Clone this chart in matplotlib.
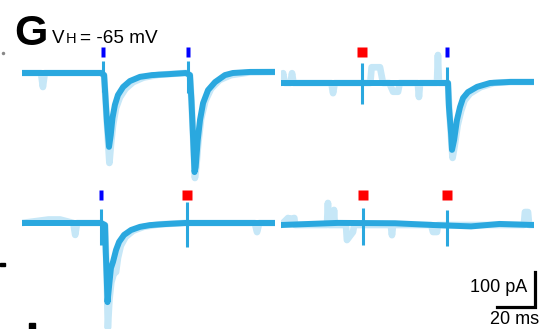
import matplotlib
matplotlib.use('Agg')
import matplotlib.pyplot as plt
from matplotlib.transforms import blended_transform_factory
from matplotlib.patches import Rectangle
from matplotlib.lines import Line2D

# ---- traces: time in ms, current in pA (0 = holding baseline) ----
# top left: blue / blue
tl_t = [0, 41.6, 43.2, 43.7, 44.7, 45.8, 46.7, 47.6, 48.9, 50.5, 53.2, 56.8, 62.1, 68.4, 77.9, 86.3,
        88.4, 89.2, 90.0, 90.8, 91.4, 92.5, 93.7, 95.3, 97.9, 101.6, 106.8, 111, 120, 133]
tl_i = [0, 0, -6, -49, -140, -211, -177, -129, -91, -63, -40, -23, -11, -6, -3, 0,
        -6, -80, -180, -283, -269, -191, -134, -86, -49, -26, -6, 0, 3, 3]
tl_lt = [0, 10.0, 11.0, 12.0, 41.6, 43.2, 43.9, 45.0, 46.0, 46.9, 47.9, 49.5, 51.5, 54.5, 58.5, 64.0, 72.0,
         86.3, 88.4, 89.3, 90.2, 91.0, 91.7, 92.8, 94.3, 96.5, 99.5, 104, 110, 120, 133]
tl_li = [0, 0, -40, 0, 0, -6, -70, -170, -257, -200, -150, -100, -70, -45, -26, -13, -5,
         0, -6, -90, -200, -300, -270, -200, -130, -80, -45, -20, -6, 2, 3]
tl_stim = [42.4, 87.4]
tl_art_hi = [34, 34]
tl_art_lo = [-54, -57]
tl_marks = ['blue', 'blue']

# top right: red / blue
tr_t = [0, 87.0, 87.9, 88.4, 89.5, 90.0, 91.1, 92.6, 94.2, 95.8, 98.4, 103.2, 110, 120.5, 133]
tr_i = [0, 0, 0, -69, -143, -191, -163, -106, -69, -43, -26, -11, 0, 3, 3]
tr_lt = [0, 1.1, 2.0, 5.0, 5.8, 6.6, 26.5, 27.4, 28.3, 47.0, 47.7, 52.1, 53.7, 57.0, 59.0, 61.6, 62.5,
         72.0, 72.6, 73.2, 82.1, 82.6, 83.1, 87.0, 87.9, 88.6, 89.7, 90.3, 91.4, 93.0, 94.8, 96.6, 99.5,
         105, 112, 121, 133]
tr_li = [0, 28, 0, 0, 28, 0, 0, -29, 0, 0, 45, 45, 0, 0, -25, -25, 0,
         0, -40, 0, 0, 80, 0, 0, 0, -80, -170, -214, -180, -120, -80, -50, -30,
         -12, 0, 3, 3]
tr_stim = [42.6, 87.4]
tr_art_hi = [57, 46]
tr_art_lo = [-60, -63]
tr_marks = ['red', 'blue']

# bottom left: blue / red
bl_t = [0, 41.6, 43.7, 44.1, 44.6, 45.0, 45.9, 46.8, 47.9, 49.5, 51.1, 53.7, 57.4, 62.1, 67.4, 75.3, 85.8, 133]
bl_i = [0, 0, -6, -83, -157, -226, -177, -129, -111, -77, -54, -34, -20, -11, -6, -3, 0, 0]
bl_lt = [0, 14, 20, 27.0, 28.0, 29.0, 41.6, 43.7, 44.3, 44.8, 45.2, 46.0, 47.0, 48.3, 49.5, 50.5, 52.0,
         54.5, 58.5, 64, 72, 85.8, 122.5, 123.7, 124.9, 133]
bl_li = [0, 10, 10, 0, -34, 0, 0, -6, -100, -200, -300, -220, -170, -145, -140, -100, -65,
         -40, -22, -11, -4, 0, 0, -26, 0, 0]
bl_stim = [41.8, 87.1]
bl_art_hi = [40, 60]
bl_art_lo = [-63, -69]
bl_marks = ['blue', 'red']

# bottom right: red / red
br_t = [0, 30, 60, 80, 100, 115, 133]
br_i = [0, 6, 5, 0, -4, 3, 0]
br_lt = [0, 3.7, 4.5, 7.0, 7.4, 24.2, 24.7, 25.2, 27.5, 27.9, 28.3, 34.2, 34.7, 36.5, 37.9, 38.5,
         57.8, 58.4, 59.0, 79.0, 80.0, 82.1, 82.6, 127.8, 128.4, 130.0, 130.6, 133]
br_li = [0, 20, 17, 20, 0, 0, 63, 0, 0, 43, 0, 0, -43, -30, -20, 0,
         0, -29, 0, 0, -20, -20, 0, 0, 37, 37, 0, 0]
br_stim = [42.9, 87.4]
br_art_hi = [49, 43]
br_art_lo = [-57, -60]
br_marks = ['red', 'red']

DARK = '#2aa8df'
LIGHT = '#c6e7f7'
MARK_COL = {'blue': '#0000ff', 'red': '#ff0000'}

W, H = 543, 329
PX_MS = 1.9     # pixels per ms
PX_PA = 0.35    # pixels per pA
T_MAX = 133
Y_LO, Y_HI = -330, 110

fig = plt.figure(figsize=(W / 100, H / 100), dpi=100)


def make_panel(x0, yb):
    # x0: pixel column of t = 0, yb: pixel row of the baseline
    top = yb - Y_HI * PX_PA
    h = (Y_HI - Y_LO) * PX_PA
    w = T_MAX * PX_MS
    ax = fig.add_axes([x0 / W, 1 - (top + h) / H, w / W, h / H])
    ax.set_xlim(0, T_MAX)
    ax.set_ylim(Y_LO, Y_HI)
    ax.axis('off')
    ax.patch.set_alpha(0)
    return ax


blue_rect = [(-2, -4.5), (2, -4.5), (2, 4.5), (-2, 4.5), (-2, -4.5)]

panels = [
    (tl_t, tl_i, tl_lt, tl_li, tl_stim, tl_art_hi, tl_art_lo, tl_marks, 22, 73, 52),
    (tr_t, tr_i, tr_lt, tr_li, tr_stim, tr_art_hi, tr_art_lo, tr_marks, 281, 83, 52),
    (bl_t, bl_i, bl_lt, bl_li, bl_stim, bl_art_hi, bl_art_lo, bl_marks, 22, 223, 194.5),
    (br_t, br_i, br_lt, br_li, br_stim, br_art_hi, br_art_lo, br_marks, 281, 225, 194.5),
]

axes = []
for t, i, lt, li, stim, hi, lo, marks, x0, yb, mark_row in panels:
    ax = make_panel(x0, yb)
    ax.plot(lt, li, color=LIGHT, lw=4.8, solid_capstyle='round', solid_joinstyle='round', zorder=1)
    ax.plot(t, i, color=DARK, lw=4.3, solid_capstyle='round', solid_joinstyle='round', zorder=2)
    ax.vlines(stim, lo, hi, color=DARK, lw=2.2, zorder=3)
    trans = blended_transform_factory(ax.transData, fig.transFigure)
    for s, m in zip(stim, marks):
        if m == 'blue':
            ax.plot([s], [1 - mark_row / H], marker=blue_rect, ms=6.5, color=MARK_COL[m],
                    mec='none', transform=trans, clip_on=False)
        else:
            ax.plot([s], [1 - mark_row / H], marker='s', ms=6.8, color=MARK_COL[m],
                    mec='none', transform=trans, clip_on=False)
    axes.append(ax)

# scale bar: 20 ms / 100 pA
ax = axes[3]
sb_x, sb_y = 133.7, -234
ax.plot([sb_x - 20, sb_x, sb_x], [sb_y, sb_y, sb_y + 100], color='black', lw=2.3,
        solid_joinstyle='miter', clip_on=False)
ax.text(sb_x - 4.2, sb_y + 54, '100 pA', ha='right', va='center', fontsize=13,
        family='Liberation Sans', clip_on=False)
ax.text(sb_x - 11, sb_y - 36, '20 ms', ha='center', va='center', fontsize=13,
        family='Liberation Sans', clip_on=False)

# panel label and holding potential
fig.text(14 / W, 1 - 45 / H, 'G', fontsize=31, weight='bold', family='Liberation Sans', va='baseline')
fig.text(52 / W, 1 - 43 / H, 'V', fontsize=13.5, family='Liberation Sans', va='baseline')
fig.text(66 / W, 1 - 43 / H, 'H', fontsize=10.5, family='Liberation Sans', va='baseline')
fig.text(80 / W, 1 - 43 / H, '= -65 mV', fontsize=13.7, family='Liberation Sans', va='baseline')

# bits of neighbouring panels cut at the edges
fig.add_artist(Line2D([3 / W], [1 - 53 / H], marker='o', ms=2.5, color='#888888', mec='none'))
fig.add_artist(Rectangle((0, 1 - 266 / H), 5 / W, 3 / H, color='black', transform=fig.transFigure))
fig.add_artist(Rectangle((29 / W, 0), 6 / W, 6 / H, color='black', transform=fig.transFigure))

fig.savefig('out.png', dpi=100)
